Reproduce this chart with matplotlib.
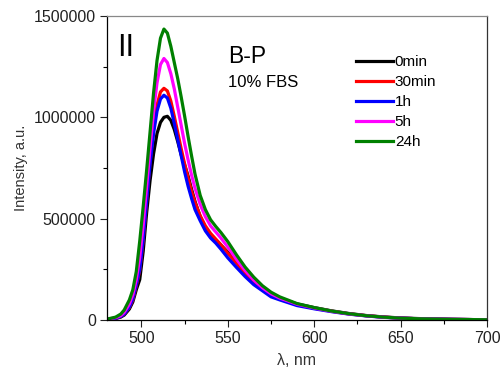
import numpy as np
import matplotlib.pyplot as plt
from matplotlib.ticker import MultipleLocator, FormatStrFormatter

plt.rcParams['font.family'] = ['Liberation Sans', 'DejaVu Sans']

# wavelength grid, nm
wl = [480, 485, 488, 490, 493, 495, 497, 499, 501, 503, 505, 507, 509, 511, 513, 515,
      517, 519, 521, 523, 525, 527, 529, 531, 534, 537, 540, 543, 546, 550, 555, 560,
      565, 570, 575, 580, 590, 600, 610, 620, 630, 640, 650, 660, 680, 700]

# intensities, thousands a.u.
i_0min = [3, 8, 15, 25, 55, 90, 150, 200, 340, 530, 690, 820, 920, 975, 1000, 1005,
          985, 940, 880, 815, 765, 710, 645, 585, 510, 455, 420, 395, 370, 335, 285, 235,
          190, 155, 128, 108, 80, 62, 46, 33, 23, 16, 11, 8, 4, 2]
i_30min = [3, 9, 18, 30, 63, 100, 170, 245, 395, 590, 780, 940, 1060, 1125, 1143, 1130,
           1080, 1005, 925, 845, 770, 700, 635, 580, 515, 465, 428, 400, 372, 330, 280, 230,
           188, 153, 125, 105, 77, 59, 44, 31, 22, 15, 10, 7, 4, 2]
i_1h = [3, 9, 18, 30, 65, 105, 175, 250, 400, 590, 770, 920, 1030, 1090, 1109, 1095,
        1045, 970, 890, 810, 730, 660, 600, 545, 490, 440, 405, 380, 350, 307, 260, 215,
        175, 145, 115, 100, 72, 56, 42, 30, 21, 14, 10, 7, 4, 2]
i_5h = [4, 12, 22, 38, 80, 125, 200, 310, 470, 660, 850, 1030, 1170, 1260, 1290, 1270,
        1215, 1140, 1050, 960, 870, 790, 715, 650, 570, 510, 465, 435, 405, 360, 300, 245,
        198, 160, 130, 109, 79, 60, 44, 31, 22, 15, 10, 7, 4, 2]
i_24h = [5, 15, 30, 50, 100, 150, 240, 390, 560, 740, 930, 1120, 1280, 1390, 1435, 1415,
         1350, 1270, 1190, 1100, 1005, 905, 810, 720, 615, 545, 495, 462, 432, 387, 322, 262,
         212, 170, 138, 115, 82, 62, 45, 32, 22, 15, 10, 7, 4, 2]

labels = ['0min', '30min', '1h', '5h', '24h']
colors = ['black', 'red', 'blue', 'magenta', 'green']
series = [i_0min, i_30min, i_1h, i_5h, i_24h]

fig = plt.figure(figsize=(5.02, 3.78), dpi=100)
ax = fig.add_axes([0.213, 0.153, 0.757, 0.805])

for y, c, lab in zip(series, colors, labels):
    ax.plot(wl, np.array(y) * 1000, color=c, lw=2.3, label=lab)

ax.set_xlim(480, 700)
ax.set_ylim(0, 1500000)
ax.xaxis.set_major_locator(MultipleLocator(50))
ax.xaxis.set_minor_locator(MultipleLocator(25))
ax.yaxis.set_major_locator(MultipleLocator(500000))
ax.yaxis.set_minor_locator(MultipleLocator(250000))
ax.yaxis.set_major_formatter(FormatStrFormatter('%d'))
ax.tick_params(which='major', direction='out', length=5, width=0.8, labelsize=11.5,
               colors='#222222', pad=3)
ax.tick_params(which='minor', direction='out', length=3, width=0.8)
ax.tick_params(top=False, right=False, which='both')

ax.spines['top'].set_color('#888888')
ax.spines['right'].set_color('#333333')
for s in ax.spines.values():
    s.set_linewidth(0.9)

ax.set_xlabel('λ, nm', fontsize=11.5, color='#333333', labelpad=5)
ax.set_ylabel('Intensity, a.u.', fontsize=10.5, color='#333333', labelpad=4)

ax.text(0.026, 0.896, 'II', transform=ax.transAxes, fontsize=22, va='center', ha='left')
ax.text(0.318, 0.868, 'B-P', transform=ax.transAxes, fontsize=16.5, va='center', ha='left')
ax.text(0.318, 0.781, '10% FBS', transform=ax.transAxes, fontsize=12, va='center', ha='left')

ax.legend(loc='upper left', bbox_to_anchor=(0.655, 0.87), frameon=False, fontsize=11,
          handlelength=2.4, handletextpad=0.15, labelspacing=0.39, borderaxespad=0,
          borderpad=0)

fig.savefig('out.png', dpi=100)
